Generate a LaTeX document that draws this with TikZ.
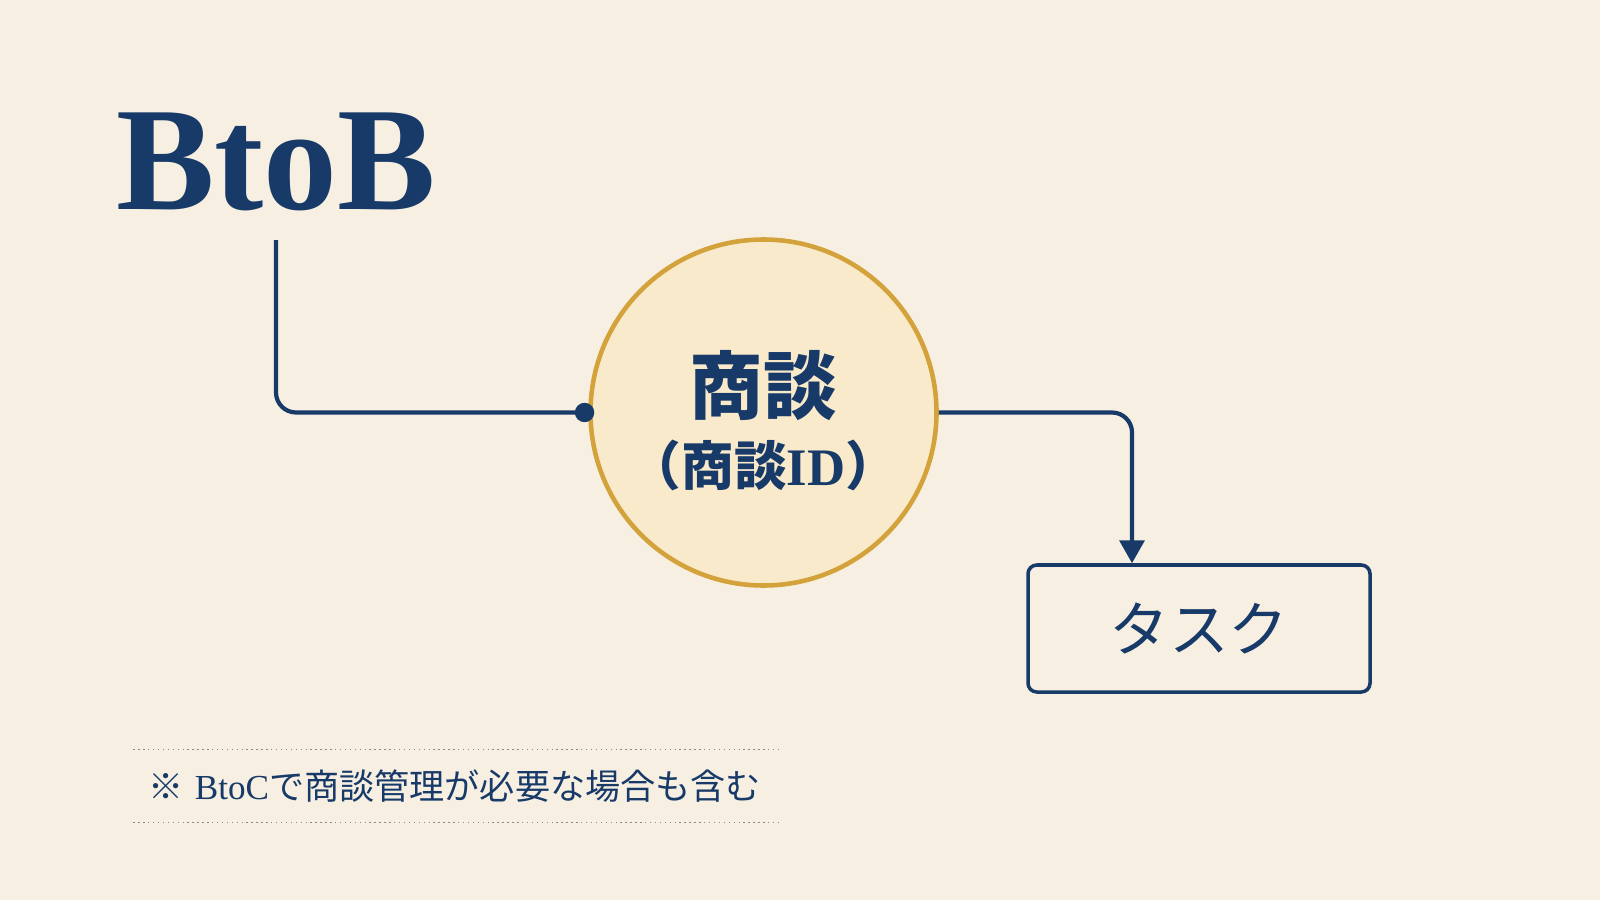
\documentclass[tikz,border=0pt]{standalone}
\usepackage{fontspec}
\setmainfont{Liberation Serif}
\newfontfamily\jpfont{Noto Sans CJK JP}
\usepackage{tikz}
\usetikzlibrary{arrows.meta, positioning}

\definecolor{paper}{HTML}{F7F0E2}
\definecolor{navy}{HTML}{173A69}
\definecolor{gold}{HTML}{D4A23A}
\definecolor{dealfill}{HTML}{F9EACB}
\definecolor{rulegray}{HTML}{8C8A86}

\begin{document}
\begin{tikzpicture}[
      % Node styles
      title/.style={
          inner sep=0pt, text=navy,
          font=\fontsize{42}{46}\selectfont\bfseries,
        },
      deal/.style={
          circle, draw=gold, line width=1.3pt, fill=dealfill,
          minimum size=3.46cm, inner sep=0pt,
        },
      deal name/.style={
          text=navy, font=\jpfont\fontsize{21}{24}\selectfont\bfseries,
        },
      deal id/.style={
          text=navy, font=\jpfont\fontsize{15}{18}\selectfont\bfseries,
        },
      entity/.style={
          draw=navy, line width=1pt, rounded corners=2.5pt,
          minimum width=3.42cm, minimum height=1.27cm, inner sep=0pt,
          text=navy, font=\jpfont\fontsize{17}{20}\selectfont,
        },
      note/.style={
          inner xsep=0.14cm, inner ysep=0pt, text width=6.18cm,
          minimum height=0.72cm, align=left,
          text=navy, font=\fontsize{10}{12}\selectfont,
        },
      % Edge/arrow style
      link/.style={
          draw=navy, line width=1.2pt, rounded corners=0.2cm,
        },
      rule/.style={
          draw=rulegray, densely dotted, line width=0.4pt,
        },
    ]
    % --- Page ---
    \fill[paper] (0,0) rectangle (16,9);
    \useasboundingbox (0,0) rectangle (16,9);

    % --- Nodes ---
    \node[title, anchor=base] (btob) at (2.76,6.90) {BtoB};
    \node[deal] (deal) at (7.635,4.875) {};
    \node[deal name] (dealname) at ([yshift=0.27cm]deal.center) {商談};
    \node[deal id] (dealid) at ([yshift=-0.53cm]deal.center)
      {（商談{\rmfamily ID}）};
    \node[entity] (task) at (11.99,2.715) {タスク};

    % --- Connectors ---
    \draw[link, -{Circle[length=5.5pt]}]
      ([yshift=-0.28cm]btob.south) |- ([xshift=0.06cm]deal.west);
    \draw[link, -{Triangle[length=6.5pt, width=7pt]}]
      (deal.east) -| ([xshift=-0.67cm]task.north);

    % --- Footnote ---
    \node[note] (remark) at (4.57,1.14)
      {{\jpfont ※} BtoC{\jpfont で商談管理が必要な場合も含む}};
    \draw[rule] (remark.north west) -- (remark.north east);
    \draw[rule] (remark.south west) -- (remark.south east);

  \end{tikzpicture}
\end{document}
